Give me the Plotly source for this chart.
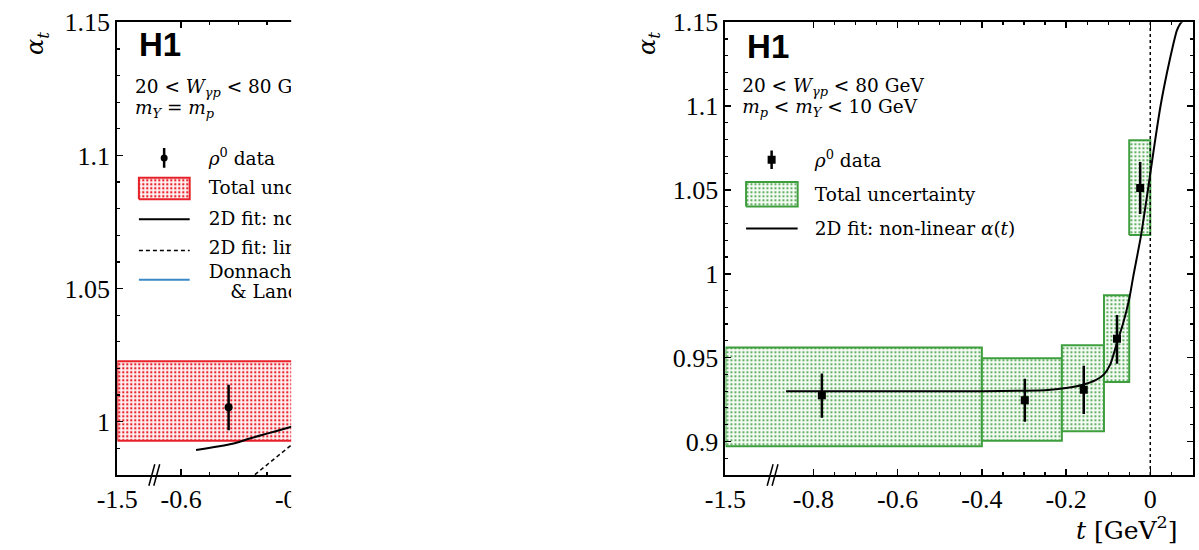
import plotly.graph_objects as go

W, H = 1199, 550

# ---------------- data: right panel (m_p < m_Y < 10 GeV) ----------------
t_points = [-0.78, -0.298, -0.158, -0.079, -0.024]
alpha_points = [0.9275, 0.9246, 0.9308, 0.9612, 1.0512]
alpha_err_up = [0.0130, 0.0128, 0.0144, 0.0142, 0.0155]
alpha_err_dn = [0.0134, 0.0128, 0.0145, 0.0149, 0.0155]
box_t_lo = [-1.5, -0.40, -0.21, -0.11, -0.05]
box_t_hi = [-0.40, -0.21, -0.11, -0.05, 0.0]
box_a_lo = [0.8971, 0.9004, 0.9060, 0.9355, 1.0231]
box_a_hi = [0.9560, 0.9496, 0.9574, 0.9872, 1.0797]
fit_t = [-0.865, -0.7, -0.5, -0.4, -0.3, -0.25, -0.2, -0.16, -0.13, -0.11, -0.095,
         -0.08, -0.065, -0.05, -0.04, -0.0226, -0.005, 0.010, 0.024, 0.0396, 0.055,
         0.063, 0.0707, 0.078]
fit_alpha = [0.930, 0.930, 0.930, 0.930, 0.9302, 0.9305, 0.9318, 0.9338, 0.9365, 0.940,
             0.946, 0.958, 0.970, 0.985, 0.999, 1.022, 1.051, 1.077, 1.0996, 1.1199,
             1.1373, 1.145, 1.149, 1.151]

# ---------------- data: left panel (m_Y = m_p) ----------------
l_t_points = [-0.517]
l_alpha_points = [1.0054]
l_err_up = [0.0085]
l_err_dn = [0.0086]
l_box_t = [-1.5, 0.0]
l_box_a = [0.9928, 1.0227]
l_fit_nl_t = [-0.574, -0.508, -0.48, -0.445, -0.41, -0.38, -0.34]
l_fit_nl_a = [0.9894, 0.9918, 0.9937, 0.9958, 0.9979, 0.9997, 1.0022]
l_fit_lin_t = [-0.49, -0.44, -0.40, -0.36, -0.32]
l_fit_lin_a = [0.9768, 0.9855, 0.9925, 0.9995, 1.0065]

# tick labels
r_xtick_vals = [-1.5, -0.8, -0.6, -0.4, -0.2, 0.0]
r_xtick_text = ["-1.5", "-0.8", "-0.6", "-0.4", "-0.2", "0"]
r_xminor = [-0.75, -0.7, -0.65, -0.55, -0.5, -0.45, -0.35, -0.3, -0.25,
            -0.15, -0.1, -0.05, 0.05]
r_ytick_vals = [0.9, 0.95, 1.0, 1.05, 1.1, 1.15]
r_ytick_text = ["0.9", "0.95", "1", "1.05", "1.1", "1.15"]
l_xtick_vals = [-1.5, -0.6, -0.4]
l_xtick_text = ["-1.5", "-0.6", "-0.4"]
l_xminor = [-0.55, -0.5, -0.45, -0.35, -0.3]
l_ytick_vals = [1.0, 1.05, 1.1, 1.15]
l_ytick_text = ["1", "1.05", "1.1", "1.15"]


# broken-axis display transforms
def disp_r(t):
    return t if t >= -0.9 else -0.9 + (t + 0.9) * (0.109 / 0.6)


def disp_l(t):
    return t if t >= -0.65 else -0.65 + (t + 0.65) * (0.0617 / 0.85)


# geometry (pixels)
R_PX = (717, 1193)
L_PX = (98, 338)
Y_PX = (8.5, 473)
R_XR = [disp_r(-1.5), 0.1017]
L_XR = [disp_l(-1.5), disp_l(-1.5) + (L_PX[1] - L_PX[0]) / 582.0]
R_YR = [0.88, 1.15]
L_YR = [0.98, 1.15]


def px2x(px, rng, pxr):
    return rng[0] + (px - pxr[0]) * (rng[1] - rng[0]) / (pxr[1] - pxr[0])


def py2y(py, rng):
    return rng[1] - (py - Y_PX[0]) * (rng[1] - rng[0]) / (Y_PX[1] - Y_PX[0])


def rx(px): return px2x(px, R_XR, R_PX)
def ry(py): return py2y(py, R_YR)
def lx(px): return px2x(px, L_XR, L_PX)
def ly(py): return py2y(py, L_YR)


SERIF = "DejaVu Serif"
TICKFONT = "Liberation Serif"
GREEN = "#3e9e3e"
RED = "#e8202a"
BLUE = "#3b88c4"
TXT = 18.5

fig = go.Figure()


def box_trace(x0, x1, y0, y1, xa, ya, col, solid, bg):
    return go.Scatter(
        x=[x0, x1, x1, x0, x0], y=[y0, y0, y1, y1, y0], xaxis=xa, yaxis=ya,
        mode="lines", fill="toself", fillcolor=bg,
        fillpattern=dict(shape=".", fgcolor=col, bgcolor=bg, size=4,
                         solidity=solid, fillmode="replace"),
        line=dict(color=col, width=2), hoverinfo="skip", showlegend=False)


def text_trace(x, y, txt, xa, ya, size=TXT, family=SERIF, pos="middle right"):
    return go.Scatter(x=[x], y=[y], xaxis=xa, yaxis=ya, mode="text", text=[txt],
                      textposition=pos, cliponaxis=True,
                      textfont=dict(family=family, size=size, color="black"),
                      hoverinfo="skip", showlegend=False)


# ---------------- right panel ----------------
for i in range(len(box_t_lo)):
    fig.add_trace(box_trace(disp_r(box_t_lo[i]), disp_r(box_t_hi[i]),
                            box_a_lo[i], box_a_hi[i], "x2", "y2", GREEN, 0.22, "#f4faf4"))

fig.add_trace(go.Scatter(x=[disp_r(t) for t in fit_t], y=fit_alpha, xaxis="x2", yaxis="y2",
                         mode="lines", line=dict(color="black", width=2, shape="spline",
                                                 smoothing=0.6),
                         hoverinfo="skip", showlegend=False))

fig.add_trace(go.Scatter(x=[disp_r(t) for t in t_points], y=alpha_points, xaxis="x2", yaxis="y2",
                         mode="markers",
                         marker=dict(symbol="square", size=8, color="black"),
                         error_y=dict(type="data", array=alpha_err_up, arrayminus=alpha_err_dn,
                                      thickness=2.5, width=0, color="black"),
                         hoverinfo="skip", showlegend=False))

# legend / labels right
fig.add_trace(text_trace(rx(739), ry(36.5), "<b>H1</b>", "x2", "y2", size=33,
                         family="Liberation Sans"))
fig.add_trace(text_trace(rx(734), ry(75.5),
                         "20 &lt; <i>W</i><sub><i>γp</i></sub> &lt; 80 GeV", "x2", "y2"))
fig.add_trace(text_trace(rx(734), ry(96.5),
                         "<i>m</i><sub><i>p</i></sub> &lt; <i>m</i><sub><i>Y</i></sub> &lt; 10 GeV",
                         "x2", "y2"))
fig.add_trace(go.Scatter(x=[rx(764)], y=[ry(149.5)], xaxis="x2", yaxis="y2", mode="markers",
                         marker=dict(symbol="square", size=8, color="black"),
                         error_y=dict(type="data", array=[0.0055], thickness=2.5, width=0,
                                      color="black"),
                         hoverinfo="skip", showlegend=False))
fig.add_trace(text_trace(rx(808), ry(152), "<i>ρ</i><sup>0</sup> data", "x2", "y2"))
fig.add_trace(box_trace(rx(738), rx(790.5), ry(197.5), ry(172.5), "x2", "y2", GREEN, 0.22,
                        "#f4faf4"))
fig.add_trace(text_trace(rx(808), ry(187), "Total uncertainty", "x2", "y2"))
fig.add_trace(go.Scatter(x=[rx(738), rx(790.5)], y=[ry(220), ry(220)], xaxis="x2", yaxis="y2",
                         mode="lines", line=dict(color="black", width=2),
                         hoverinfo="skip", showlegend=False))
fig.add_trace(text_trace(rx(808), ry(222), "2D fit: non-linear <i>α</i>(<i>t</i>)", "x2", "y2"))

# ---------------- left panel ----------------
fig.add_trace(box_trace(disp_l(l_box_t[0]), disp_l(l_box_t[1]), l_box_a[0], l_box_a[1],
                        "x", "y", RED, 0.28, "#fff4f4"))
fig.add_trace(go.Scatter(x=[disp_l(t) for t in l_fit_nl_t], y=l_fit_nl_a, xaxis="x", yaxis="y",
                         mode="lines", line=dict(color="black", width=2, shape="spline"),
                         hoverinfo="skip", showlegend=False))
fig.add_trace(go.Scatter(x=[disp_l(t) for t in l_fit_lin_t], y=l_fit_lin_a, xaxis="x", yaxis="y",
                         mode="lines", line=dict(color="black", width=1.5, dash="4px,3px"),
                         hoverinfo="skip", showlegend=False))
fig.add_trace(go.Scatter(x=[disp_l(t) for t in l_t_points], y=l_alpha_points, xaxis="x", yaxis="y",
                         mode="markers", marker=dict(symbol="circle", size=8, color="black"),
                         error_y=dict(type="data", array=l_err_up, arrayminus=l_err_dn,
                                      thickness=2.5, width=0, color="black"),
                         hoverinfo="skip", showlegend=False))

fig.add_trace(text_trace(lx(120), ly(35), "<b>H1</b>", "x", "y", size=33, family="Liberation Sans"))
fig.add_trace(text_trace(lx(116), ly(76),
                         "20 &lt; <i>W</i><sub><i>γp</i></sub> &lt; 80 GeV", "x", "y"))
fig.add_trace(text_trace(lx(116), ly(98),
                         "<i>m</i><sub><i>Y</i></sub> = <i>m</i><sub><i>p</i></sub>", "x", "y"))
fig.add_trace(go.Scatter(x=[lx(145.7)], y=[ly(147.7)], xaxis="x", yaxis="y", mode="markers",
                         marker=dict(symbol="circle", size=7, color="black"),
                         error_y=dict(type="data", array=[0.0037], thickness=2.5, width=0,
                                      color="black"),
                         hoverinfo="skip", showlegend=False))
fig.add_trace(text_trace(lx(191), ly(150), "<i>ρ</i><sup>0</sup> data", "x", "y"))
fig.add_trace(box_trace(lx(120), lx(171.7), ly(190), ly(168), "x", "y", RED, 0.28, "#fff4f4"))
fig.add_trace(text_trace(lx(191), ly(180), "Total uncertainty", "x", "y"))
fig.add_trace(go.Scatter(x=[lx(120), lx(171.7)], y=[ly(210.7)] * 2, xaxis="x", yaxis="y",
                         mode="lines", line=dict(color="black", width=2),
                         hoverinfo="skip", showlegend=False))
fig.add_trace(text_trace(lx(191), ly(212), "2D fit: non-linear <i>α</i>(<i>t</i>)", "x", "y"))
fig.add_trace(go.Scatter(x=[lx(120), lx(171.7)], y=[ly(242.7)] * 2, xaxis="x", yaxis="y",
                         mode="lines", line=dict(color="black", width=1.5, dash="4px,3px"),
                         hoverinfo="skip", showlegend=False))
fig.add_trace(text_trace(lx(191), ly(242), "2D fit: linear <i>α</i>(<i>t</i>)", "x", "y"))
fig.add_trace(go.Scatter(x=[lx(120), lx(171.7)], y=[ly(272.7)] * 2, xaxis="x", yaxis="y",
                         mode="lines", line=dict(color=BLUE, width=2),
                         hoverinfo="skip", showlegend=False))
fig.add_trace(text_trace(lx(191), ly(266), "Donnachie", "x", "y"))
fig.add_trace(text_trace(lx(213), ly(287), "&amp; Landshoff", "x", "y"))

# ---------------- axes ----------------
axis_common = dict(showline=True, linecolor="black", linewidth=2, mirror="ticks",
                   ticks="inside", ticklen=6, tickwidth=1.5, tickcolor="black",
                   showgrid=False, zeroline=False, ticklabeloverflow="allow",
                   tickfont=dict(family=TICKFONT, size=26, color="black"), tickmode="array")
minor_common = dict(ticks="inside", ticklen=3, tickwidth=1.2, tickcolor="black", showgrid=False)

ydom = [1 - Y_PX[1] / H, 1 - Y_PX[0] / H]

fig.update_layout(
    width=W, height=H, autosize=False,
    margin=dict(l=0, r=0, t=0, b=0, pad=0),
    paper_bgcolor="white", plot_bgcolor="white", showlegend=False,
    xaxis=dict(axis_common, domain=[L_PX[0] / W, L_PX[1] / W], range=L_XR, anchor="y",
               tickvals=[disp_l(v) for v in l_xtick_vals], ticktext=l_xtick_text,
               minor=dict(minor_common, tickvals=l_xminor)),
    yaxis=dict(axis_common, domain=ydom, range=L_YR, anchor="x",
               tickvals=l_ytick_vals, ticktext=l_ytick_text,
               minor=dict(minor_common, tickvals=[0.99 + 0.01 * i for i in range(16)])),
    xaxis2=dict(axis_common, domain=[R_PX[0] / W, R_PX[1] / W], range=R_XR, anchor="y2",
                tickvals=[disp_r(v) for v in r_xtick_vals], ticktext=r_xtick_text,
                minor=dict(minor_common, tickvals=r_xminor)),
    yaxis2=dict(axis_common, domain=ydom, range=R_YR, anchor="x2",
                tickvals=r_ytick_vals, ticktext=r_ytick_text,
                minor=dict(minor_common, tickvals=[0.89 + 0.01 * i for i in range(26)])),
)

# dotted line at t = 0
fig.add_shape(type="line", xref="x2", yref="y2", x0=0, x1=0, y0=R_YR[0], y1=R_YR[1],
              line=dict(color="black", width=1.5, dash="dot"))

# axis-break marks
for xa, xb, du in (("x2", disp_r(-0.9) + 0.003, 1 / 428.6), ("x", disp_l(-0.65) + 0.003, 1 / 582.0)):
    for off in (-2.5, 2.5):
        fig.add_shape(type="line", xref=xa, yref="paper",
                      x0=xb + (off - 3) * du, x1=xb + (off + 3) * du,
                      y0=1 - 484 / H, y1=1 - 462 / H,
                      line=dict(color="black", width=1.5))

# white cover (left panel is cut off in the original)
fig.add_shape(type="rect", xref="paper", yref="paper", x0=275 / W, x1=600 / W, y0=0, y1=1,
              fillcolor="white", line=dict(width=0), layer="above")

# axis titles
fig.add_annotation(x=1179 / W, y=1 - 528 / H, xref="paper", yref="paper", xanchor="right",
                   yanchor="middle", showarrow=False,
                   text="<i>t</i> [GeV<sup>2</sup>]", font=dict(family=SERIF, size=25, color="black"))
for xp in (16, 638):
    fig.add_annotation(x=xp / W, y=1 - 30 / H, xref="paper", yref="paper", xanchor="center",
                       yanchor="middle", showarrow=False, textangle=-90,
                       text="<i>α<sub>t</sub></i>", font=dict(family=SERIF, size=24, color="black"))

fig.write_html("out.html", config={"displayModeBar": False, "staticPlot": True},
               post_script="document.body.style.margin='0px';"
                           "document.body.style.overflow='hidden';")
